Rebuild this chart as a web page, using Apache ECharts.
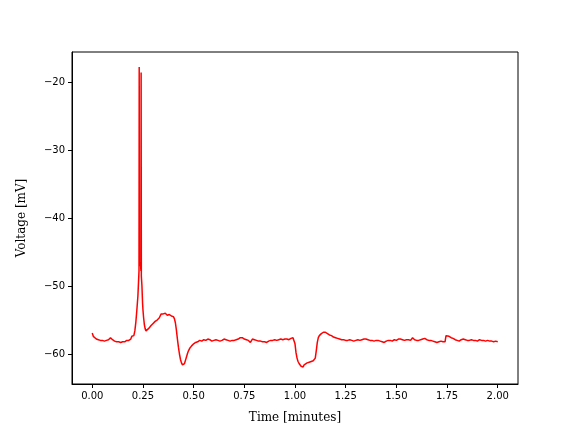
<!DOCTYPE html>
<html>
<head>
<meta charset="utf-8">
<script src="https://cdn.jsdelivr.net/npm/echarts@6/dist/echarts.min.js"></script>
<style>
  html, body { margin: 0; padding: 0; background: #fff; }
  #chart { width: 576px; height: 432px; }
</style>
</head>
<body>
<div id="chart"></div>
<script>
// time in minutes
const timeMin = [
  0.00, 0.005, 0.01, 0.02, 0.03, 0.04, 0.05, 0.06, 0.07, 0.08,
  0.09, 0.10, 0.11, 0.12, 0.13, 0.14, 0.15, 0.16, 0.17, 0.18,
  0.19, 0.195, 0.20, 0.205, 0.21, 0.215, 0.22, 0.225, 0.228, 0.2305,
  0.2315, 0.2325, 0.235, 0.238, 0.240, 0.241, 0.242, 0.245, 0.248, 0.250,
  0.253, 0.257, 0.261, 0.265, 0.269, 0.273, 0.28, 0.29, 0.30, 0.31,
  0.32, 0.33, 0.335, 0.34, 0.345, 0.35, 0.36, 0.37, 0.38, 0.39,
  0.40, 0.405, 0.41, 0.415, 0.42, 0.425, 0.43, 0.435, 0.44, 0.445,
  0.45, 0.455, 0.46, 0.465, 0.47, 0.475, 0.48, 0.49, 0.50, 0.51,
  0.52, 0.53, 0.54, 0.55, 0.56, 0.57, 0.58, 0.59, 0.60, 0.61,
  0.62, 0.63, 0.64, 0.65, 0.66, 0.67, 0.68, 0.69, 0.70, 0.71,
  0.72, 0.73, 0.74, 0.75, 0.76, 0.77, 0.78, 0.79, 0.80, 0.81,
  0.82, 0.83, 0.84, 0.85, 0.86, 0.87, 0.88, 0.89, 0.90, 0.91,
  0.92, 0.93, 0.94, 0.95, 0.96, 0.97, 0.98, 0.99, 0.995, 1.000,
  1.005, 1.010, 1.015, 1.020, 1.025, 1.030, 1.035, 1.040, 1.045, 1.05,
  1.06, 1.07, 1.08, 1.09, 1.095, 1.100, 1.105, 1.110, 1.115, 1.120,
  1.13, 1.14, 1.15, 1.16, 1.17, 1.18, 1.19, 1.20, 1.21, 1.22,
  1.23, 1.24, 1.25, 1.26, 1.27, 1.28, 1.29, 1.30, 1.31, 1.32,
  1.33, 1.34, 1.35, 1.36, 1.37, 1.38, 1.39, 1.40, 1.41, 1.42,
  1.43, 1.44, 1.45, 1.46, 1.47, 1.48, 1.49, 1.50, 1.51, 1.52,
  1.53, 1.54, 1.55, 1.56, 1.57, 1.58, 1.59, 1.60, 1.61, 1.62,
  1.63, 1.64, 1.65, 1.66, 1.67, 1.68, 1.69, 1.70, 1.71, 1.72,
  1.73, 1.74, 1.745, 1.75, 1.76, 1.77, 1.78, 1.79, 1.80, 1.81,
  1.82, 1.83, 1.84, 1.85, 1.86, 1.87, 1.88, 1.89, 1.90, 1.91,
  1.92, 1.93, 1.94, 1.95, 1.96, 1.97, 1.98, 1.99, 2.00
]

// membrane voltage in mV
const voltage = [
  -56.9, -57.4, -57.6, -57.8, -57.9, -58.0, -58.0, -58.1, -58.0, -57.9,
  -57.6, -57.9, -58.1, -58.2, -58.2, -58.3, -58.2, -58.2, -58.0, -58.0,
  -57.8, -57.4, -57.5, -57.3, -56.6, -55.3, -53.5, -51.5, -49.5, -47.8,
  -17.8, -47.0, -46.5, -46.8, -47.8, -18.6, -48.5, -50.0, -52.5, -53.5,
  -54.6, -55.7, -56.3, -56.6, -56.8, -56.5, -56.2, -55.8, -55.5, -55.2,
  -55.0, -54.7, -54.6, -54.1, -53.9, -54.1, -54.0, -54.3, -54.2, -54.4,
  -54.5, -54.8, -55.4, -56.5, -57.8, -59.0, -60.0, -60.8, -61.3, -61.6,
  -61.8, -61.4, -60.9, -60.4, -59.9, -59.5, -59.2, -58.8, -58.5, -58.3,
  -58.2, -58.0, -58.1, -57.9, -58.0, -57.8, -57.9, -58.1, -58.0, -57.9,
  -58.0, -58.1, -58.0, -57.8, -57.9, -58.0, -58.1, -58.0, -58.0, -57.9,
  -57.8, -57.6, -57.6, -57.8, -57.9, -58.0, -58.3, -57.8, -57.9, -58.0,
  -58.1, -58.1, -58.2, -58.2, -58.3, -58.1, -58.0, -58.0, -57.9, -58.0,
  -57.9, -57.8, -57.9, -57.8, -57.8, -57.9, -57.7, -57.6, -57.7, -58.5,
  -59.8, -60.6, -61.1, -61.4, -61.6, -61.8, -62.0, -61.9, -61.6, -61.4,
  -61.3, -61.2, -61.1, -61.0, -60.9, -60.6, -59.5, -58.3, -57.6, -57.3,
  -57.0, -56.8, -56.8, -57.0, -57.2, -57.3, -57.5, -57.6, -57.7, -57.8,
  -57.9, -57.9, -58.0, -58.0, -57.9, -58.0, -58.1, -58.0, -57.9, -58.0,
  -57.9, -57.8, -57.8, -57.9, -58.0, -58.0, -58.1, -58.0, -58.0, -58.1,
  -58.2, -58.3, -58.1, -58.0, -58.0, -58.1, -57.9, -58.0, -57.8, -57.8,
  -57.9, -58.0, -57.9, -57.9, -58.0, -57.6, -57.9, -58.0, -58.0, -57.9,
  -57.8, -57.7, -57.9, -58.0, -58.0, -58.1, -58.2, -58.3, -58.2, -58.1,
  -58.2, -58.2, -57.3, -57.1, -57.4, -57.6, -57.7, -57.9, -58.0, -58.1,
  -57.9, -57.8, -57.9, -58.0, -58.0, -57.9, -58.0, -58.0, -58.1, -57.9,
  -58.0, -58.0, -58.1, -58.0, -58.1, -58.1, -58.2, -58.1, -58.2
]

const xTicks = [0, 0.25, 0.5, 0.75, 1.0, 1.25, 1.5, 1.75, 2.0]
const yTicks = [-60, -50, -40, -30, -20]

const chart = echarts.init(document.getElementById('chart'))

const tickFont = { fontFamily: 'DejaVu Sans', fontSize: 10, color: '#000' }
const nameFont = { fontFamily: 'DejaVu Serif', fontSize: 12, color: '#000' }

chart.setOption({
  animation: false,
  backgroundColor: '#fff',
  grid: {
    left: 72, right: 58, top: 52, bottom: 48,
    show: true, borderColor: '#000', borderWidth: 1
  },
  xAxis: {
    type: 'value',
    min: -0.1,
    max: 2.1,
    name: 'Time [minutes]',
    nameLocation: 'middle',
    nameGap: 28,
    nameTextStyle: nameFont,
    axisLine: { show: true, onZero: false, lineStyle: { color: '#000', width: 1 } },
    axisTick: { show: true, inside: false, length: 4, customValues: xTicks, lineStyle: { color: '#000' } },
    axisLabel: {
      ...tickFont, margin: 7, customValues: xTicks,
      formatter: v => v.toFixed(2)
    },
    splitLine: { show: false }
  },
  yAxis: {
    type: 'value',
    min: -64.41,
    max: -15.59,
    name: 'Voltage [mV]',
    nameLocation: 'middle',
    nameGap: 44,
    nameTextStyle: nameFont,
    axisLine: { show: true, onZero: false, lineStyle: { color: '#000', width: 1 } },
    axisTick: { show: true, inside: false, length: 4, customValues: yTicks, lineStyle: { color: '#000' } },
    axisLabel: {
      ...tickFont, margin: 7, customValues: yTicks,
      formatter: v => String(v).replace('-', '\u2212')
    },
    splitLine: { show: false }
  },
  series: [{
    type: 'line',
    data: timeMin.map((t, i) => [t, voltage[i]]),
    showSymbol: false,
    sampling: null,
    lineStyle: { color: 'red', width: 1.5 },
    itemStyle: { color: 'red' }
  }]
})
</script>
</body>
</html>
